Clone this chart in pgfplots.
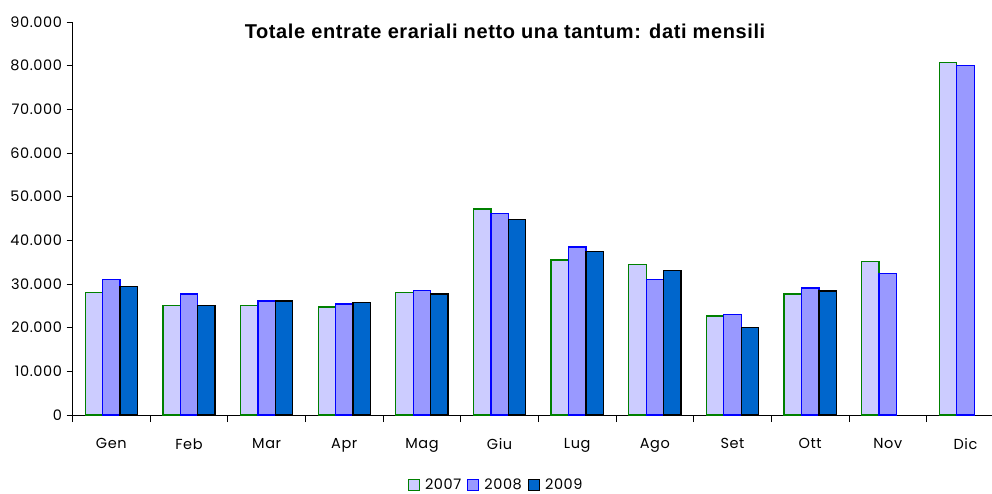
\documentclass[border=0pt]{standalone}
\usepackage{fontspec}
\setmainfont{Poppins}[LetterSpace=4]
\newfontfamily\titlefont{Liberation Sans}[LetterSpace=3]
\usepackage{pgfplots}
\pgfplotsset{compat=1.18}

\definecolor{c07}{RGB}{204,204,255}
\definecolor{c08}{RGB}{153,153,255}
\definecolor{c09}{RGB}{0,102,204}
\definecolor{e07}{RGB}{0,128,0}
\definecolor{e08}{RGB}{0,0,255}

\begin{document}
\begin{tikzpicture}
\begin{axis}[
  scale only axis,
  width=919pt, height=393pt,
  ybar=0pt, bar width=17.4pt,
  xmin=-0.5, xmax=11.335,
  ymin=0, ymax=90000,
  axis x line*=bottom, axis y line*=left,
  axis line style={black, line width=0.8pt},
  xtick={0,...,11},
  xticklabels={Gen,Feb,Mar,Apr,Mag,Giu,Lug,Ago,Set,Ott,Nov,Dic},
  major x tick style={draw=none},
  minor xtick={-0.5,0.5,...,11.5},
  minor tick length=7pt,
  tick align=outside,
  major tick length=6pt,
  tick style={black, line width=0.8pt},
  ytick={0,10000,...,90000},
  scaled y ticks=false,
  /pgf/number format/.cd, 1000 sep={.}, assume math mode=true,
  /pgfplots/.cd,
  ticklabel style={font=\fontsize{14.5}{17}\selectfont},
  x tick label style={yshift=-14pt},
  y tick label style={xshift=-1pt},
  legend style={at={(0.461,-0.178)}, anchor=center, draw=none,
    legend columns=3, font=\fontsize{14.5}{17}\selectfont,
    /tikz/every even column/.append style={column sep=4pt}},
  legend image code/.code={\draw[#1, line width=1.2pt] (0pt,-5.5pt) rectangle (11pt,5.5pt);
    \path (14pt,0pt);},
]
\addplot[fill=c07, draw=e07, line width=1.3pt] coordinates {
  (0,28000)(1,25000)(2,25000)(3,24700)(4,28000)(5,47200)
  (6,35500)(7,34400)(8,22700)(9,27700)(10,35100)(11,80700)};
\addlegendentry{2007}
\addplot[fill=c08, draw=e08, line width=1.3pt] coordinates {
  (0,31100)(1,27700)(2,26100)(3,25400)(4,28500)(5,46200)
  (6,38500)(7,31100)(8,23000)(9,29100)(10,32400)(11,80100)};
\addlegendentry{2008}
\addplot[fill=c09, draw=black, line width=1.3pt] coordinates {
  (0,29400)(1,25000)(2,26100)(3,25700)(4,27700)(5,44800)
  (6,37500)(7,33100)(8,20100)(9,28400)};
\addlegendentry{2009}
\node[font=\titlefont\bfseries\fontsize{20}{23}\selectfont, anchor=center]
  at (axis cs:5.07,87900) {Totale entrate erariali netto una tantum: dati mensili};
\end{axis}
\pgfresetboundingbox
\path[use as bounding box] (-72.5pt,-78pt) rectangle (919.5pt,415pt);
\end{tikzpicture}
\end{document}
